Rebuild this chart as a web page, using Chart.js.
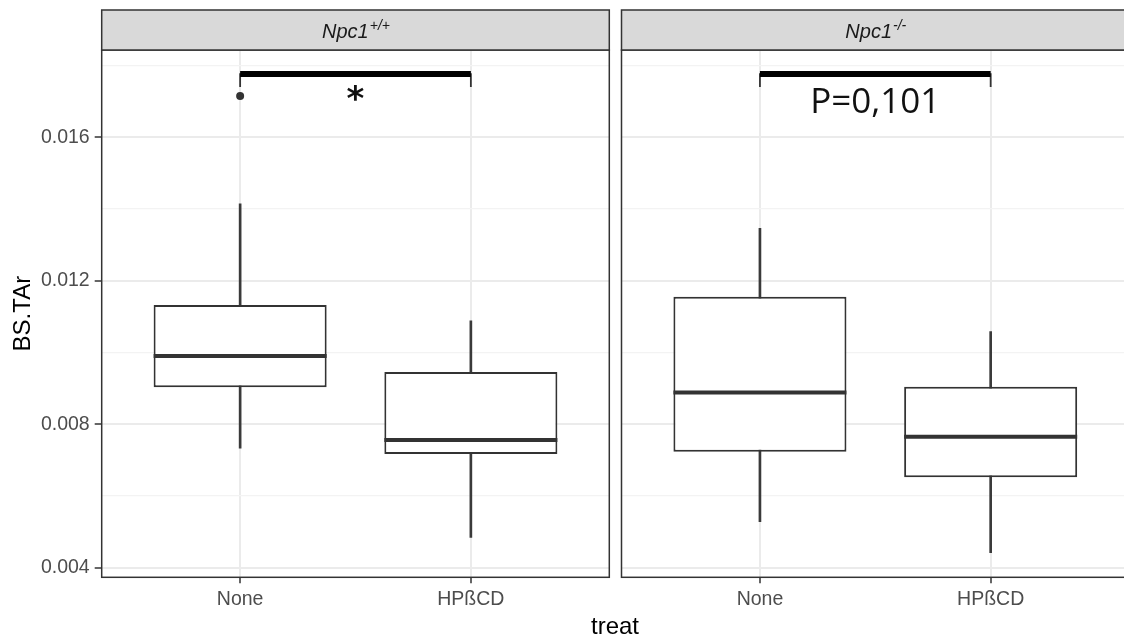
<!DOCTYPE html>
<html>
<head>
<meta charset="utf-8">
<script src="https://cdn.jsdelivr.net/npm/chart.js@4/dist/chart.umd.min.js"></script>
<style>
  html, body { margin: 0; padding: 0; background: #fff; overflow: hidden; }
  #wrap { position: relative; width: 1124px; height: 641px; overflow: hidden; background: #fff; }
  canvas { position: absolute; top: 0; }
  #left { left: 0; }
  #right { left: 612px; }
  #xtitle {
    position: absolute; left: 515px; width: 200px; top: 614px; text-align: center;
    font: 24px/24px "Liberation Sans", Arial, sans-serif; color: #000;
  }
</style>
</head>
<body>
<div id="wrap">
  <canvas id="left" width="615" height="641"></canvas>
  <canvas id="right" width="530" height="641"></canvas>
  <div id="xtitle">treat</div>
</div>
<script>
const FONT = "'Liberation Sans', Arial, sans-serif";

const categories = ["None", "HPßCD"];
const xPositions = [1, 2];

const yMajorTicks = [0.004, 0.008, 0.012, 0.016];
const yMinorTicks = [0.006, 0.01, 0.014, 0.018];

// Npc1+/+
const wtLow = [0.00733, 0.00484];
const wtQ1 = [0.00903, 0.00717];
const wtMedian = [0.0099, 0.00756];
const wtQ3 = [0.01132, 0.00945];
const wtHigh = [0.01414, 0.01088];
const wtOutliers = [{ x: 1, y: 0.01715 }];

// Npc1-/-
const koLow = [0.00528, 0.00442];
const koQ1 = [0.00723, 0.00652];
const koMedian = [0.00888, 0.00765];
const koQ3 = [0.01155, 0.00904];
const koHigh = [0.01346, 0.01058];
const koOutliers = [];

// significance brackets
const sigBarY = 0.01776;
const sigTickY = 0.0174;

const boxWidth = 0.75;

const isMajor = (v) => yMajorTicks.some((t) => Math.abs(t - v) < 1e-9);

const halfBox = (ctx) => {
  const s = ctx.chart.scales.x;
  return Math.abs(s.getPixelForValue(1 + boxWidth / 2) - s.getPixelForValue(1));
};

const panelDecor = {
  id: "panelDecor",
  afterDatasetsDraw(chart, args, opts) {
    const { ctx, scales } = chart;
    const x = scales.x.getPixelForValue(1.5);
    const y = scales.y.getPixelForValue(opts.sigY);
    ctx.save();
    ctx.font = opts.sigFont;
    ctx.fillStyle = "#111";
    ctx.textAlign = "center";
    ctx.textBaseline = "alphabetic";
    const m = ctx.measureText(opts.sigText);
    const dy = opts.sigAnchor === "center"
      ? (m.actualBoundingBoxAscent - m.actualBoundingBoxDescent) / 2
      : 0;
    ctx.fillText(opts.sigText, x, y + dy);
    ctx.restore();
  },
  afterDraw(chart, args, opts) {
    const { ctx, chartArea: a } = chart;
    const stripTop = a.top - 40;
    ctx.save();
    ctx.strokeStyle = "#333333";
    ctx.lineWidth = 1.5;
    ctx.strokeRect(a.left, a.top, a.right - a.left, a.bottom - a.top);
    ctx.fillStyle = "#D9D9D9";
    ctx.fillRect(a.left, stripTop, a.right - a.left, 40);
    ctx.strokeRect(a.left, stripTop, a.right - a.left, 40);

    ctx.font = "italic 20px " + FONT;
    const w1 = ctx.measureText(opts.label).width;
    ctx.font = "italic 14px " + FONT;
    const w2 = ctx.measureText(opts.sup).width;
    const x0 = (a.left + a.right) / 2 - (w1 + w2) / 2;
    ctx.fillStyle = "#1A1A1A";
    ctx.textAlign = "left";
    ctx.textBaseline = "alphabetic";
    ctx.font = "italic 20px " + FONT;
    ctx.fillText(opts.label, x0, stripTop + 27.5);
    ctx.font = "italic 14px " + FONT;
    ctx.fillText(opts.sup, x0 + w1 + 1, stripTop + 20);
    ctx.restore();
  },
};

const buildPanel = (canvas, p) => {
  const datasets = [
    {
      type: "line",
      data: [
        { x: 1, y: sigBarY },
        { x: 2, y: sigBarY },
      ],
      borderColor: "#000",
      borderWidth: 6,
      pointRadius: 0,
      order: 0,
    },
    {
      type: "line",
      data: [
        { x: 1, y: sigTickY },
        { x: 1, y: sigBarY },
        { x: 2, y: sigBarY },
        { x: 2, y: sigTickY },
      ],
      borderColor: "#333",
      borderWidth: 1.8,
      pointRadius: 0,
      order: 0,
    },
    {
      type: "scatter",
      data: p.outliers,
      pointRadius: 4,
      pointBackgroundColor: "#333",
      pointBorderWidth: 0,
      order: 0,
    },
    {
      type: "scatter",
      data: xPositions.map((x, i) => ({ x, y: p.median[i] })),
      pointStyle: "line",
      pointRadius: halfBox,
      pointBorderColor: "#333",
      pointBorderWidth: 4,
      order: 1,
    },
    {
      type: "bar",
      data: xPositions.map((x, i) => ({ x, y: [p.q1[i], p.q3[i]] })),
      backgroundColor: "#fff",
      borderColor: "#333",
      borderWidth: 2,
      borderSkipped: false,
      grouped: false,
      categoryPercentage: 1,
      barPercentage: boxWidth,
      order: 2,
    },
    {
      type: "bar",
      data: xPositions.map((x, i) => ({ x, y: [p.low[i], p.high[i]] })),
      backgroundColor: "#3a3a3a",
      borderWidth: 0,
      barThickness: 2,
      grouped: false,
      order: 3,
    },
  ];

  return new Chart(canvas, {
    type: "bar",
    data: { datasets },
    options: {
      responsive: false,
      animation: false,
      devicePixelRatio: 1,
      events: [],
      layout: { padding: p.padding },
      plugins: {
        legend: { display: false },
        tooltip: { enabled: false },
        panelDecor: {
          label: "Npc1",
          sup: p.sup,
          sigText: p.sigText,
          sigY: p.sigY,
          sigFont: p.sigFont,
          sigAnchor: p.sigAnchor,
        },
      },
      scales: {
        x: {
          type: "linear",
          min: 0.4,
          max: 2.6,
          offset: false,
          afterBuildTicks: (s) => {
            s.ticks = xPositions.map((v) => ({ value: v }));
          },
          afterFit: (s) => {
            s.height = 63.7;
          },
          ticks: {
            callback: (v) => categories[xPositions.indexOf(v)] ?? "",
            color: "#4D4D4D",
            font: { family: FONT, size: 19.5 },
            padding: 5,
            maxRotation: 0,
            autoSkip: false,
          },
          grid: {
            color: "#EBEBEB",
            lineWidth: 2,
            offset: false,
            tickLength: 6,
            tickColor: "#333",
            tickWidth: 1.5,
          },
          border: { display: false },
        },
        y: {
          type: "linear",
          min: 0.00373,
          max: 0.01843,
          afterBuildTicks: (s) => {
            s.ticks = [...yMajorTicks, ...yMinorTicks]
              .sort((a, b) => a - b)
              .map((v) => ({ value: v }));
          },
          afterFit: (s) => {
            s.width = p.yWidth;
          },
          ticks: {
            display: p.showY,
            callback: (v) => (isMajor(v) ? v.toFixed(3) : ""),
            color: "#4D4D4D",
            font: { family: FONT, size: 19.5 },
            padding: 5,
            autoSkip: false,
          },
          grid: {
            color: (c) => (isMajor(c.tick.value) ? "#EBEBEB" : "#F3F3F3"),
            lineWidth: (c) => (isMajor(c.tick.value) ? 2 : 1.2),
            drawTicks: p.showY,
            tickLength: 7,
            tickColor: (c) => (isMajor(c.tick.value) ? "#333" : "rgba(0,0,0,0)"),
            tickWidth: 1.5,
          },
          border: { display: false },
          title: {
            display: p.showY,
            text: "BS.TAr",
            color: "#000",
            font: { family: FONT, size: 24 },
            padding: { top: 9, bottom: 0 },
          },
        },
      },
    },
    plugins: [panelDecor],
  });
};

buildPanel(document.getElementById("left"), {
  low: wtLow,
  q1: wtQ1,
  median: wtMedian,
  q3: wtQ3,
  high: wtHigh,
  outliers: wtOutliers,
  sup: "+/+",
  sigText: "*",
  sigY: 0.01724,
  sigFont: "bold 34px 'DejaVu Sans'",
  sigAnchor: "center",
  showY: true,
  yWidth: 101.7,
  padding: { top: 50, left: 0, right: 5.7, bottom: 0 },
});

buildPanel(document.getElementById("right"), {
  low: koLow,
  q1: koQ1,
  median: koMedian,
  q3: koQ3,
  high: koHigh,
  outliers: koOutliers,
  sup: "-/-",
  sigText: "P=0,101",
  sigY: 0.016678,
  sigFont: "35px 'Open Sans'",
  sigAnchor: "baseline",
  showY: false,
  yWidth: 0,
  padding: { top: 50, left: 9.5, right: 12.9, bottom: 0 },
});
</script>
</body>
</html>
